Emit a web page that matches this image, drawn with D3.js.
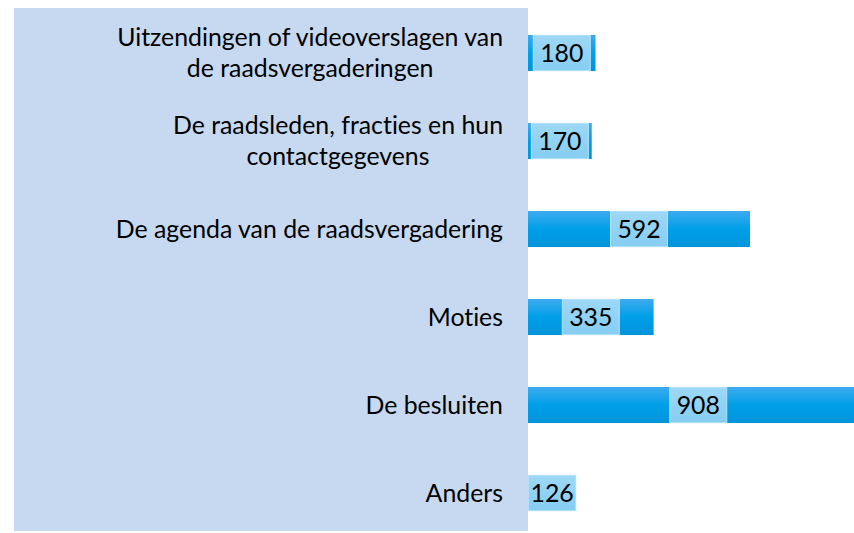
<!DOCTYPE html>
<html>
<head>
<meta charset="utf-8">
<script src="https://cdn.jsdelivr.net/npm/d3@7"></script>
<style>
    body { margin: 0; background: #fff; }
    .text { font-family: Lato, "Liberation Sans", sans-serif; fill: #000; font-variant-ligatures: none; }
</style>
</head>
<body>
<div id="chart"></div>
<script>
// Data
const categories = [
    ["Uitzendingen of videoverslagen van", "de raadsvergaderingen"],
    ["De raadsleden, fracties en hun", "contactgegevens"],
    ["De agenda van de raadsvergadering"],
    ["Moties"],
    ["De besluiten"],
    ["Anders"]
];
const values = [180, 170, 592, 335, 908, 126];

const width = 854, height = 533;

const svg = d3.select("#chart").append("svg")
    .attr("width", width)
    .attr("height", height);

// Gradient for the bars
const defs = svg.append("defs");
const grad = defs.append("linearGradient")
    .attr("id", "bar-gradient")
    .attr("x1", 0).attr("y1", 0).attr("x2", 0).attr("y2", 1);
grad.append("stop").attr("offset", "0%").attr("stop-color", "#3eaaee");
grad.append("stop").attr("offset", "50%").attr("stop-color", "#00a0e8");
grad.append("stop").attr("offset", "100%").attr("stop-color", "#0094db");

const boxGrad = defs.append("linearGradient")
    .attr("id", "box-gradient")
    .attr("x1", 0).attr("y1", 0).attr("x2", 0).attr("y2", 1);
boxGrad.append("stop").attr("offset", "0%").attr("stop-color", "#9ed8f6");
boxGrad.append("stop").attr("offset", "100%").attr("stop-color", "#86cdf2");

// Light blue panel behind the category labels
const panel = { left: 14, top: 8, right: 528, bottom: 531 };
svg.append("rect")
    .attr("x", panel.left)
    .attr("y", panel.top)
    .attr("width", panel.right - panel.left)
    .attr("height", panel.bottom - panel.top)
    .attr("fill", "#c6d9f0");

// Scales
const xScale = d3.scaleLinear()
    .domain([0, 1000])
    .range([528, 528 + 375]);

const yScale = d3.scaleBand()
    .domain(d3.range(categories.length))
    .range([9, 537])
    .paddingInner(0.59)
    .paddingOuter(0.295);

// Work out a font size so the longest label is as wide as in the picture
const probe = svg.append("text").attr("class", "text")
    .style("font-size", "100px")
    .text(categories[0][0]);
const fontSize = 100 * 386 / probe.node().getComputedTextLength();
probe.remove();
const lineHeight = 31;

// Bars
svg.selectAll(".bar")
    .data(values)
    .enter().append("rect")
    .attr("class", "bar")
    .attr("x", xScale(0))
    .attr("y", (d, i) => yScale(i))
    .attr("width", d => xScale(d) - xScale(0))
    .attr("height", yScale.bandwidth())
    .attr("fill", "url(#bar-gradient)");

// Value labels in boxes centred on the bars
const labels = svg.selectAll(".bar-label")
    .data(values)
    .enter().append("g")
    .attr("class", "bar-label");

labels.each(function (d, i) {
    const g = d3.select(this);
    const barW = xScale(d) - xScale(0);
    const boxW = barW < 58 ? barW + 1 : 58;
    const cx = barW < 58 ? xScale(0) + boxW / 2 : (xScale(0) + xScale(d)) / 2;
    g.append("rect")
        .attr("x", cx - boxW / 2 + 0.5)
        .attr("y", yScale(i) + 0.5)
        .attr("width", boxW - 1)
        .attr("height", yScale.bandwidth() - 1)
        .attr("fill", "url(#box-gradient)")
        .attr("stroke", "#b5e2f8")
        .attr("stroke-width", 1);
    g.append("text")
        .attr("class", "text")
        .attr("x", cx)
        .attr("y", yScale(i) + yScale.bandwidth() / 2)
        .attr("dy", "0.35em")
        .attr("text-anchor", "middle")
        .style("font-size", fontSize + "px")
        .text(d);
});

// Category labels: block right aligned against the panel, lines centred inside it
categories.forEach((lines, i) => {
    const cy = yScale(i) + yScale.bandwidth() / 2;
    const first = cy - (lines.length - 1) * lineHeight / 2;
    const t = svg.append("text")
        .attr("class", "text")
        .attr("text-anchor", "middle")
        .style("font-size", fontSize + "px");
    const spans = lines.map((line, j) => t.append("tspan")
        .attr("y", first + j * lineHeight)
        .attr("dy", "0.35em")
        .text(line));
    const maxW = d3.max(spans, s => s.node().getComputedTextLength());
    spans.forEach(s => s.attr("x", 503 - maxW / 2));
});
</script>
</body>
</html>
